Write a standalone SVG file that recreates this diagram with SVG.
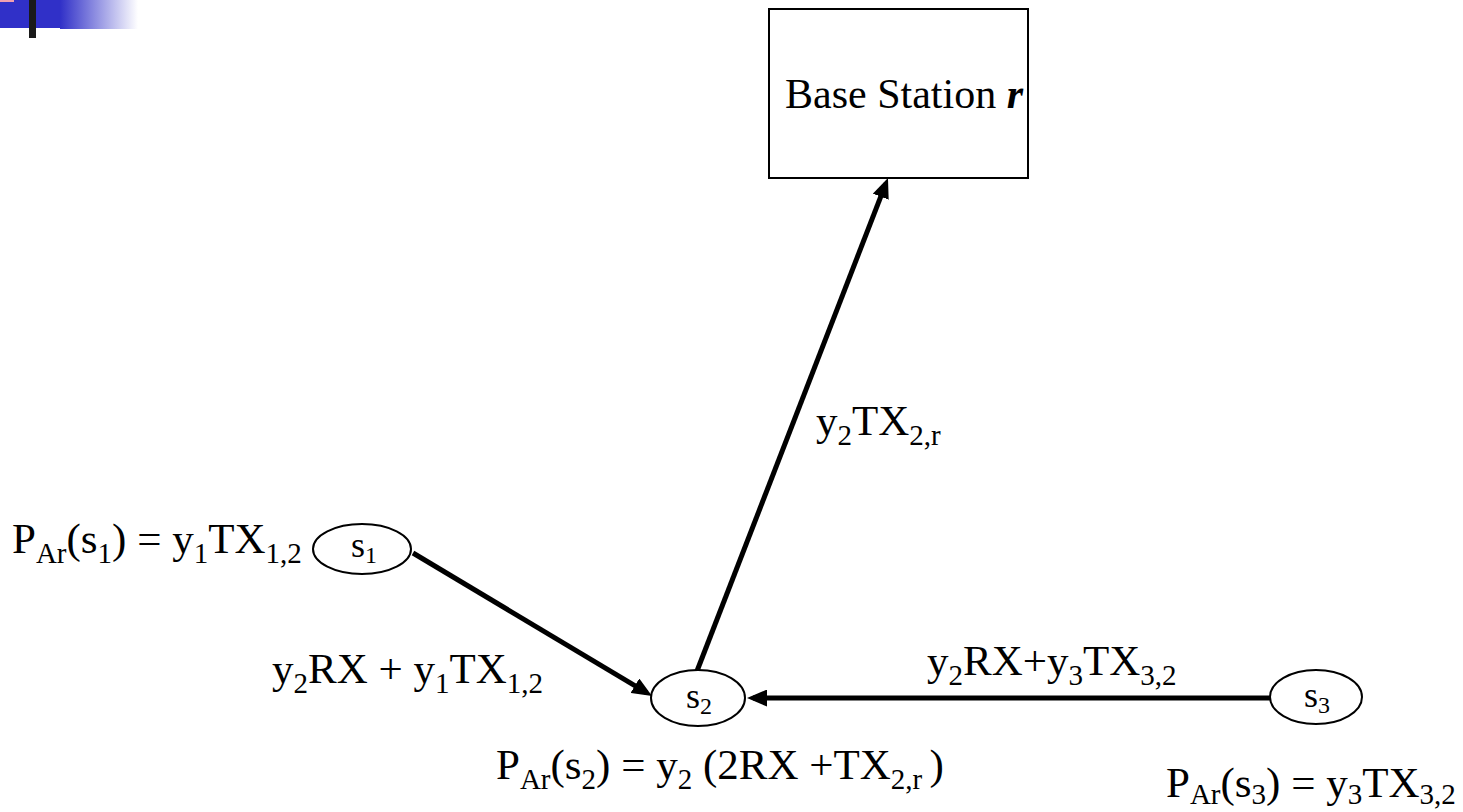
<svg xmlns="http://www.w3.org/2000/svg" width="1463" height="812" viewBox="0 0 1463 812">
<defs>
<linearGradient id="fade" x1="0" y1="0" x2="1" y2="0">
<stop offset="0" stop-color="#3030C8"/>
<stop offset="1" stop-color="#3030C8" stop-opacity="0"/>
</linearGradient>
<marker id="arr" markerUnits="userSpaceOnUse" markerWidth="20" markerHeight="17" refX="14" refY="8.5" orient="auto">
<path d="M0,0 L20,8.5 L0,17 z" fill="#000"/>
</marker>
<style>
text{font-family:"Liberation Serif","Times New Roman",serif;fill:#000}
.lbl{font-size:43px}
.sub{font-size:29px}
.node{font-size:36px}
.nsub{font-size:24px}
.shape{fill:#fff;stroke:#000;stroke-width:2}
.edge{stroke:#000;stroke-width:5;fill:none;marker-end:url(#arr)}
</style>
</defs>
<g id="decoration">
<rect x="0" y="0" width="60" height="28" fill="#3030C8"/>
<rect x="60" y="0" width="78" height="29" fill="url(#fade)"/>
<rect x="0" y="0" width="14" height="2" fill="#F0A0B0"/>
<rect x="29" y="0" width="7" height="38" fill="#1a1a1a"/>
</g>
<g id="connectors">
<line class="edge" x1="413" y1="553" x2="646.9" y2="692.9"/>
<line class="edge" x1="697" y1="671" x2="885.8" y2="183.6"/>
<line class="edge" x1="1270" y1="698" x2="753" y2="698"/>
</g>
<g id="base-station">
<rect class="shape" x="769" y="9" width="259" height="169"/>
<text class="lbl" x="785" y="108" style="font-size:42px">Base Station <tspan font-weight="bold" font-style="italic">r</tspan></text>
</g>
<g id="s1">
<ellipse class="shape" cx="362" cy="549" rx="49" ry="25"/>
<text class="node" x="364" y="557" text-anchor="middle">s<tspan class="nsub" dy="6">1</tspan></text>
</g>
<g id="s2">
<ellipse class="shape" cx="698" cy="698" rx="47" ry="28"/>
<text class="node" x="699" y="708" text-anchor="middle">s<tspan class="nsub" dy="6">2</tspan></text>
</g>
<g id="s3">
<ellipse class="shape" cx="1316" cy="697" rx="46" ry="27"/>
<text class="node" x="1317" y="707" text-anchor="middle">s<tspan class="nsub" dy="6">3</tspan></text>
</g>
<g id="labels">
<text class="lbl" x="12" y="553">P<tspan class="sub" dy="10">Ar</tspan><tspan dy="-10">(s</tspan><tspan class="sub" dy="10">1</tspan><tspan dy="-10">) = y</tspan><tspan class="sub" dy="10">1</tspan><tspan dy="-10">TX</tspan><tspan class="sub" dy="10">1,2</tspan></text>
<text class="lbl" x="272" y="683">y<tspan class="sub" dy="10">2</tspan><tspan dy="-10">RX + y</tspan><tspan class="sub" dy="10">1</tspan><tspan dy="-10">TX</tspan><tspan class="sub" dy="10">1,2</tspan></text>
<text class="lbl" x="816" y="435">y<tspan class="sub" dy="10">2</tspan><tspan dy="-10">TX</tspan><tspan class="sub" dy="10">2,r</tspan></text>
<text class="lbl" x="927" y="675">y<tspan class="sub" dy="10">2</tspan><tspan dy="-10">RX+y</tspan><tspan class="sub" dy="10">3</tspan><tspan dy="-10">TX</tspan><tspan class="sub" dy="10">3,2</tspan></text>
<text class="lbl" x="496" y="779">P<tspan class="sub" dy="10">Ar</tspan><tspan dy="-10">(s</tspan><tspan class="sub" dy="10">2</tspan><tspan dy="-10">) = y</tspan><tspan class="sub" dy="10">2</tspan><tspan dy="-10"> (2RX +TX</tspan><tspan class="sub" dy="10">2,r </tspan><tspan dy="-10">)</tspan></text>
<text class="lbl" x="1166" y="797">P<tspan class="sub" dy="7">Ar</tspan><tspan dy="-7">(s</tspan><tspan class="sub" dy="7">3</tspan><tspan dy="-7">) = y</tspan><tspan class="sub" dy="7">3</tspan><tspan dy="-7">TX</tspan><tspan class="sub" dy="7">3,2</tspan></text>
</g>
</svg>
